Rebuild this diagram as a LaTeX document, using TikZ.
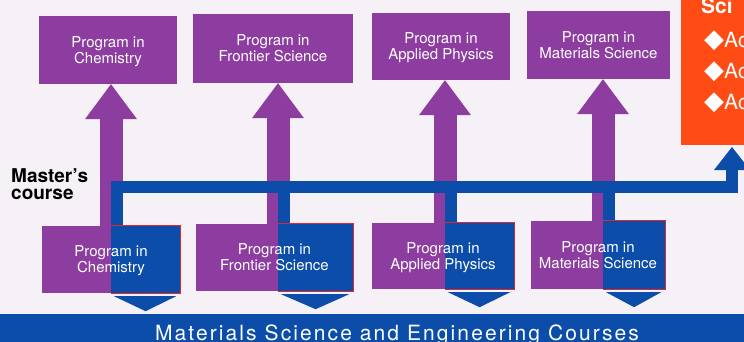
\documentclass[tikz,border=0pt]{standalone}
\usepackage{fontspec}
\setmainfont{TeX Gyre Heros}
\newfontfamily\symfont{DejaVu Sans}
\usetikzlibrary{arrows.meta,calc}
\definecolor{progpurple}{HTML}{8D3C9F}
\definecolor{progblue}{HTML}{0B4DA8}
\definecolor{sciorange}{HTML}{FF4B14}
\definecolor{paper}{HTML}{F6F0F7}
\definecolor{edgered}{HTML}{E3262B}
\tikzset{
  topbox/.style={fill=progpurple, text=white, align=center, inner sep=0pt, text depth=-2pt,
    font=\fontsize{15}{16}\selectfont},
  lowbox/.style={topbox, path picture={
    \fill[progblue] (#1 |- path picture bounding box.north) rectangle (path picture bounding box.south east);}},
  uparrow/.style={progpurple, line width=23pt, -{Triangle[width=52pt,length=35pt,line width=0pt]}},
  bluebar/.style={progblue, line width=12pt, line join=miter},
  scitext/.style={text=white, inner sep=0pt, font=\fontsize{21}{21}\selectfont},
}
\newcommand{\scimark}{{\symfont\fontsize{26}{26}\selectfont ◆}}
\begin{document}
\begin{tikzpicture}[x=1pt,y=-1pt]
    \fill[paper] (0,0) rectangle (744,342);
    \useasboundingbox (0,0) rectangle (744,342);
    % columns of the arrows
    \coordinate (colA) at (111,0);
    \coordinate (colB) at (278,0);
    \coordinate (colC) at (445,0);
    \coordinate (colD) at (603,0);
    \coordinate (wireA) at (117,187);
    \coordinate (wireB) at (284,187);
    \coordinate (wireC) at (451,187);
    \coordinate (wireD) at (609,187);
    \coordinate (barend) at (732,187);
    % upper programs
    \node[topbox, minimum width=138pt, minimum height=68pt] (topA) at (108,50) {Program in\\Chemistry};
    \node[topbox, minimum width=160pt, minimum height=69pt] (topB) at (273,48.5) {Program in\\Frontier Science};
    \node[topbox, minimum width=138pt, minimum height=67pt] (topC) at (441,46.5) {Program in\\Applied Physics};
    \node[topbox, minimum width=143pt, minimum height=68pt] (topD) at (598.5,45) {Program in\\Materials Science};
    % lower programs
    \node[lowbox=colA, minimum width=138pt, minimum height=67pt] (lowA) at (111,259.5) {Program in\\Chemistry};
    \node[lowbox=colB, minimum width=157pt, minimum height=67pt] (lowB) at (274.5,257.5) {Program in\\Frontier Science};
    \node[lowbox=colC, minimum width=142pt, minimum height=66pt] (lowC) at (443,256) {Program in\\Applied Physics};
    \node[lowbox=colD, minimum width=134pt, minimum height=68pt] (lowD) at (598,255) {Program in\\Materials Science};
    % orange box
    \node[fill=sciorange, minimum width=100pt, minimum height=160pt, inner sep=0pt, anchor=south west] (sci) at (681,145) {};
    \node[scitext, anchor=base west, font=\bfseries\fontsize{21}{21}\selectfont] (sciTitle) at (701,14) {Sci};
    \node[scitext, anchor=base west] (sciA) at (704,48) {\scimark Ac};
    \node[scitext, anchor=base west] (sciB) at (704,79) {\scimark Ac};
    \node[scitext, anchor=base west] (sciC) at (704,110) {\scimark Ac};
    % arrows
    \foreach \n in {A,B,C,D}
        \draw[uparrow] (col\n |- low\n.north) -- (col\n |- top\n.south);
    \foreach \n in {B,C,D}
        \draw[bluebar] (wire\n |- low\n.north) -- (wire\n);
    \draw[bluebar, -{Triangle[width=36pt,length=23pt,line width=0pt]}] (wireA |- lowA.north) -- (wireA) -- (barend) -- ($(barend |- sci.south)+(0,2)$);
    \foreach \n in {A,B,C,D} {
        \draw[edgered, line width=1pt] (col\n |- low\n.north) -- (low\n.north east) -- (low\n.south east) -- (col\n |- low\n.south);
        \fill[progblue] ($(col\n |- low\n.south)+(3,3)$) -- ($(low\n.south east)+(-4,3)$)
            -- ($(col\n |- low\n.south)!0.5!(low\n.south east)+(0,18)$) -- cycle;
    }
    % labels
    \node[anchor=west, inner sep=0pt, align=left, font=\bfseries\fontsize{19}{17}\selectfont] (master) at (11,184) {Master's\\course};
    \node[fill=progblue, minimum width=760pt, minimum height=40pt, inner sep=0pt, anchor=north west] (courses) at (-5,314) {};
    \node[text=white, inner sep=0pt, anchor=base, font=\fontsize{21}{21}\selectfont\addfontfeatures{LetterSpace=10}] (coursesText) at (397,340.5) {Materials Science and Engineering Courses};
\end{tikzpicture}
\end{document}
